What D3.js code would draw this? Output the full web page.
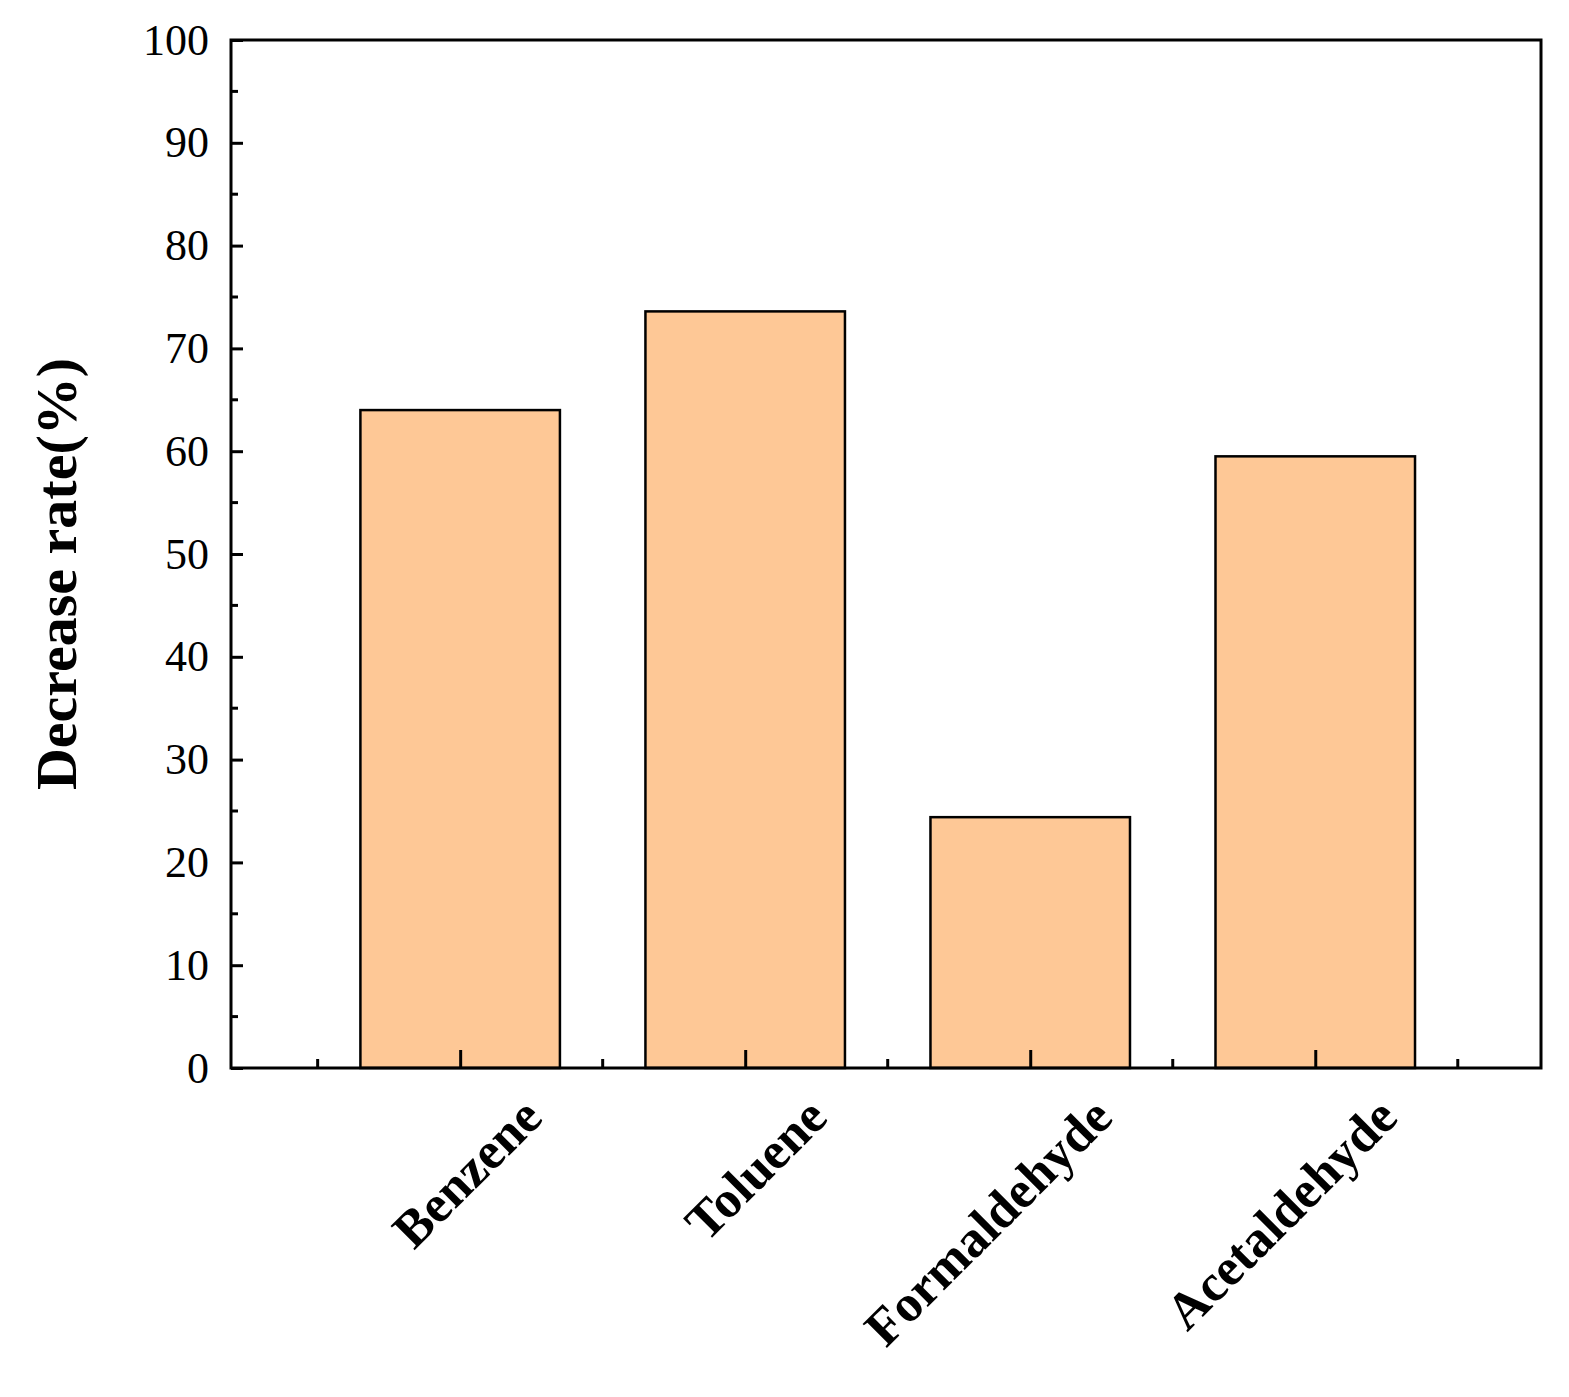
<!DOCTYPE html>
<html><head><meta charset="utf-8">
<script src="https://cdn.jsdelivr.net/npm/d3@7"></script>
<style>body{margin:0;background:#fff}</style></head>
<body><svg id="chart" width="1569" height="1397"></svg>
<script>
// data
const categories = ["Benzene", "Toluene", "Formaldehyde", "Acetaldehyde"];
const values = [64.0, 73.6, 24.4, 59.5];
const yTicks = [0, 10, 20, 30, 40, 50, 60, 70, 80, 90, 100];

const svg = d3.select("#chart");
const margin = { top: 40, left: 231, right: 28, bottom: 329 };
const innerWidth = 1569 - margin.left - margin.right;
const innerHeight = 1397 - margin.top - margin.bottom;
const font = "Times New Roman, Liberation Serif, Times, serif";

const xScale = d3.scaleLinear().domain([0.196, 4.792]).range([0, innerWidth]);
const yScale = d3.scaleLinear().domain([0, 100]).range([innerHeight, 0]);
const g = svg.append("g").attr("transform", `translate(${margin.left},${margin.top})`);

// bars
g.selectAll("rect.bar").data(values).join("rect")
  .attr("x", (d, i) => xScale(i + 1 - 0.35))
  .attr("width", xScale(1.7) - xScale(1))
  .attr("y", d => yScale(d))
  .attr("height", d => yScale(0) - yScale(d))
  .attr("fill", "#fec896").attr("stroke", "#000").attr("stroke-width", 2.5);

// frame
g.append("rect").attr("width", innerWidth).attr("height", innerHeight)
  .attr("fill", "none").attr("stroke", "#000").attr("stroke-width", 3);

// y axis ticks
const yAxis = g.append("g")
  .call(d3.axisLeft(yScale).tickValues(yTicks).tickSize(-12).tickPadding(22));
yAxis.select(".domain").remove();
yAxis.selectAll("line").attr("stroke-width", 3);
yAxis.selectAll("text").attr("font-family", font).attr("font-size", 44).attr("fill", "#000");
g.append("g").selectAll("line").data(d3.range(5, 100, 10)).join("line")
  .attr("x1", 0).attr("x2", 7).attr("y1", d => yScale(d)).attr("y2", d => yScale(d))
  .attr("stroke", "#000").attr("stroke-width", 3);

// x axis ticks
const xAxis = g.append("g").attr("transform", `translate(0,${innerHeight})`)
  .call(d3.axisBottom(xScale).tickValues([1, 2, 3, 4]).tickSize(-18)
    .tickFormat((d, i) => categories[i]));
xAxis.select(".domain").remove();
xAxis.selectAll("line").attr("stroke-width", 3);
xAxis.selectAll("text")
  .attr("font-family", font).attr("font-size", 52).attr("font-weight", "bold").attr("fill", "#000")
  .attr("text-anchor", "end").attr("dy", null).attr("y", 0)
  .attr("transform", "translate(84,52) rotate(-45)");
g.append("g").selectAll("line").data([0.5, 1.5, 2.5, 3.5, 4.5]).join("line")
  .attr("x1", d => xScale(d)).attr("x2", d => xScale(d))
  .attr("y1", innerHeight).attr("y2", innerHeight - 9)
  .attr("stroke", "#000").attr("stroke-width", 3);

// y label
g.append("text").attr("transform", "rotate(-90)")
  .attr("x", -innerHeight / 2 - 20).attr("y", -155)
  .attr("text-anchor", "middle").attr("font-family", font)
  .attr("font-size", 58).attr("font-weight", "bold").text("Decrease rate(%)");
</script></body></html>
